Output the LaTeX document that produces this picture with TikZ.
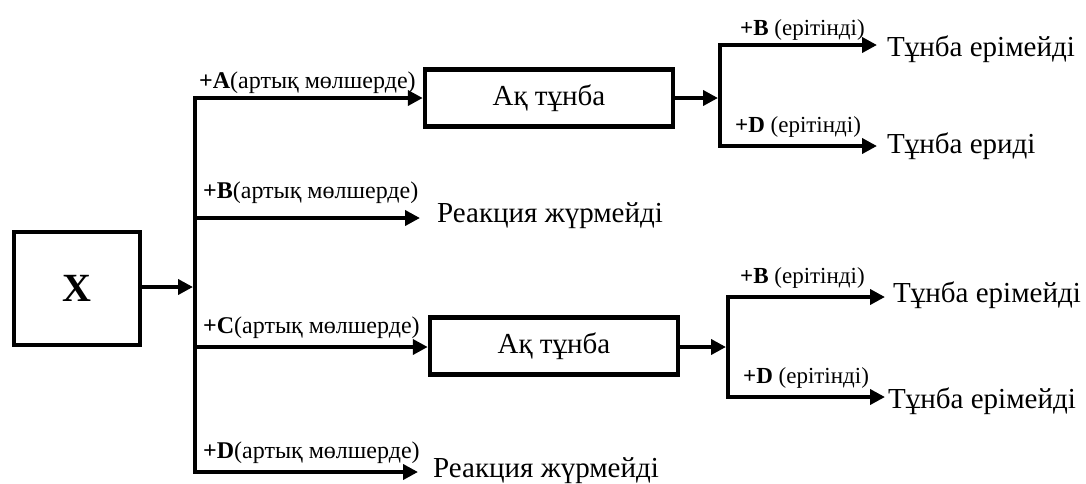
\documentclass[tikz,border=0pt]{standalone}
\usepackage{fontspec}
\setmainfont{Liberation Serif}
\usetikzlibrary{arrows.meta}
\tikzset{
  lw/.style={line width=4.5pt},
  arr/.style={lw,-{Triangle[length=15pt,width=15pt]}},
  trunk/.style={lw,line cap=rect},
  boxnode/.style={draw,line width=4.5pt,minimum width=248pt,minimum height=57pt,inner sep=0pt,font=\fontsize{29}{32}\selectfont},
  res/.style={anchor=base west,inner sep=0pt,font=\fontsize{29}{32}\selectfont},
  lab/.style={anchor=base west,inner sep=0pt,font=\fontsize{24}{26}\selectfont},
  rlab/.style={anchor=base west,inner sep=0pt,font=\fontsize{23}{25}\selectfont}
}
\begin{document}
\begin{tikzpicture}[x=1pt,y=-1pt]
\useasboundingbox (0,0) rectangle (1086,483);
% X box
\node[draw,line width=4.5pt,minimum width=126pt,minimum height=113pt,inner sep=0pt,font=\fontsize{40}{42}\selectfont\bfseries] (X) at (77,288.5) {X};
% trunk coordinates
\coordinate (tX) at (195,287);
\coordinate (tA) at (195,98);
\coordinate (tB) at (195,218);
\coordinate (tC) at (195,347);
\coordinate (tD) at (195,472);
\draw[trunk] (tA) -- (tD);
\draw[arr] (X.east |- tX) -- ([xshift=-2pt]tX);
% boxes
\node[boxnode] (b1) at (549,98) {Ақ тұнба};
\node[boxnode] (b2) at (554,346) {Ақ тұнба};
% end texts
\node[res] (rB) at (437,222) {Реакция жүрмейді};
\node[res] (rD) at (433,477) {Реакция жүрмейді};
\coordinate (eB) at (420,218);
\coordinate (eD) at (418,472);
\draw[arr] (tA) -- (b1.west |- tA);
\draw[arr] (tB) -- (eB);
\draw[arr] (tC) -- (b2.west |- tC);
\draw[arr] (tD) -- (eD);
% labels
\node[lab] (lA) at (199,88) {\textbf{+A}(артық мөлшерде)};
\node[lab] (lB) at (203,198) {\textbf{+B}(артық мөлшерде)};
\node[lab] (lC) at (203,333) {\textbf{+C}(артық мөлшерде)};
\node[lab] (lD) at (203,458) {\textbf{+D}(артық мөлшерде)};
% right group 1
\coordinate (v1t) at (720,45);
\coordinate (v1m) at (720,98);
\coordinate (v1b) at (720,146);
\draw[trunk] (v1t) -- (v1b);
\draw[arr] (b1.east |- v1m) -- ([xshift=-2pt]v1m);
\node[res] (r1a) at (887,56) {Тұнба ерімейді};
\node[res] (r1b) at (887,153) {Тұнба ериді};
\draw[arr] (v1t) -- (877,45);
\draw[arr] (v1b) -- (877,146);
\node[rlab] (l1a) at (740,35) {\textbf{+B} (ерітінді)};
\node[rlab] (l1b) at (735,132) {\textbf{+D} (ерітінді)};
% right group 2
\coordinate (v2t) at (728,297);
\coordinate (v2m) at (728,347);
\coordinate (v2b) at (728,397);
\draw[trunk] (v2t) -- (v2b);
\draw[arr] (b2.east |- v2m) -- ([xshift=-2pt]v2m);
\node[res] (r2a) at (893,302) {Тұнба ерімейді};
\node[res] (r2b) at (888,408) {Тұнба ерімейді};
\draw[arr] (v2t) -- (885,297);
\draw[arr] (v2b) -- (885,397);
\node[rlab] (l2a) at (740,283) {\textbf{+B} (ерітінді)};
\node[rlab] (l2b) at (743,383) {\textbf{+D} (ерітінді)};
\end{tikzpicture}
\end{document}
